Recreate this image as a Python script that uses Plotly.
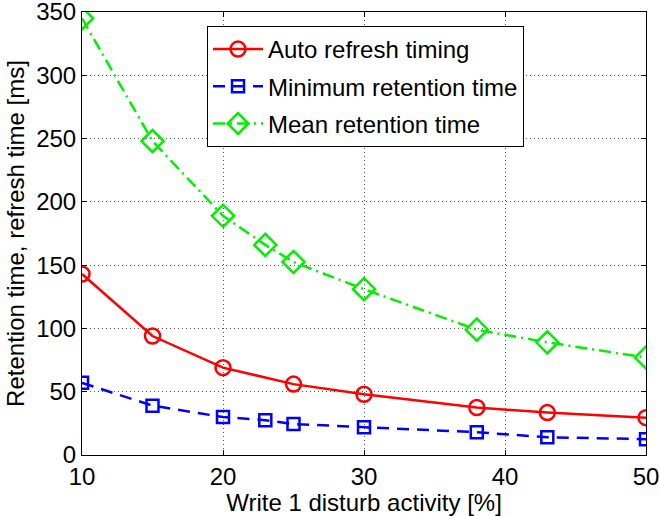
import plotly.graph_objects as go

x_auto = [10, 15, 20, 25, 30, 38, 43, 50]
auto_refresh = [143, 94, 69, 56, 48, 37.5, 33.5, 29.5]

x_min = [10, 15, 20, 23, 25, 30, 38, 43, 50]
min_retention = [57, 39, 30, 27.5, 24.5, 22, 18, 14, 12.5]

x_mean = [10, 15, 20, 23, 25, 30, 38, 43, 50]
mean_retention = [345, 248, 189, 166, 152.5, 131, 99, 89, 77]

x_ticks = [10, 20, 30, 40, 50]
y_ticks = [0, 50, 100, 150, 200, 250, 300, 350]

font_family = "Liberation Sans, Arial, Helvetica, sans-serif"
fs = 24

fig = go.Figure()
fig.add_trace(go.Scatter(
    x=x_auto, y=auto_refresh, name="Auto refresh timing", mode="lines+markers",
    legendgroup="a",
    line=dict(color="#ff0000", width=2.5, dash="solid"),
    marker=dict(symbol="circle-open", size=15, color="#ff0000", line=dict(width=2.5, color="#ff0000")),
))
fig.add_trace(go.Scatter(
    x=x_min, y=min_retention, name="Minimum retention time", mode="lines+markers",
    legendgroup="b",
    line=dict(color="#0000ff", width=2.5, dash="12px,8px"),
    marker=dict(symbol="square-open", size=12, color="#0000ff", line=dict(width=2.5, color="#0000ff")),
))
fig.add_trace(go.Scatter(
    x=x_mean, y=mean_retention, name="Mean retention time", mode="lines+markers",
    legendgroup="c",
    line=dict(color="#00f000", width=2.5, dash="12px,5px,2px,5px"),
    marker=dict(symbol="diamond-open", size=17, color="#00f000", line=dict(width=2.5, color="#00f000")),
))

axis_common = dict(
    showline=True, linecolor="black", linewidth=1, mirror="ticks",
    ticks="inside", ticklen=5, tickcolor="black",
    showgrid=True, gridcolor="#555555", griddash="1px,3px", gridwidth=1,
    zeroline=False, automargin=False, ticklabeloverflow="allow",
    tickfont=dict(family=font_family, size=fs, color="black"),
)

fig.update_xaxes(
    range=[10, 50], tickvals=x_ticks,
    title=dict(text="Write 1 disturb activity [%]", font=dict(family=font_family, size=fs, color="black"), standoff=2),
    **axis_common,
)
fig.update_yaxes(
    range=[0, 350], tickvals=y_ticks,
    title=dict(text="Retention time, refresh time [ms]", font=dict(family=font_family, size=fs, color="black"), standoff=4),
    **axis_common,
)

fig.update_layout(
    width=659, height=516,
    margin=dict(l=82, r=13, t=12, b=61),
    paper_bgcolor="white", plot_bgcolor="white",
    font=dict(family=font_family, size=fs, color="black"),
    legend=dict(
        x=(207 - 82) / (646 - 82), y=(455 - 26) / (455 - 12), xanchor="left", yanchor="top",
        bgcolor="white", bordercolor="black", borderwidth=1,
        font=dict(family=font_family, size=fs, color="black"),
        tracegroupgap=3, itemwidth=50, traceorder="grouped",
    ),
)

# remove the browser's default 8px body margin so the 659x516 figure fills the window
fig.write_html(
    "out.html",
    config={"displayModeBar": False},
    post_script="document.body.style.margin='0';",
)
